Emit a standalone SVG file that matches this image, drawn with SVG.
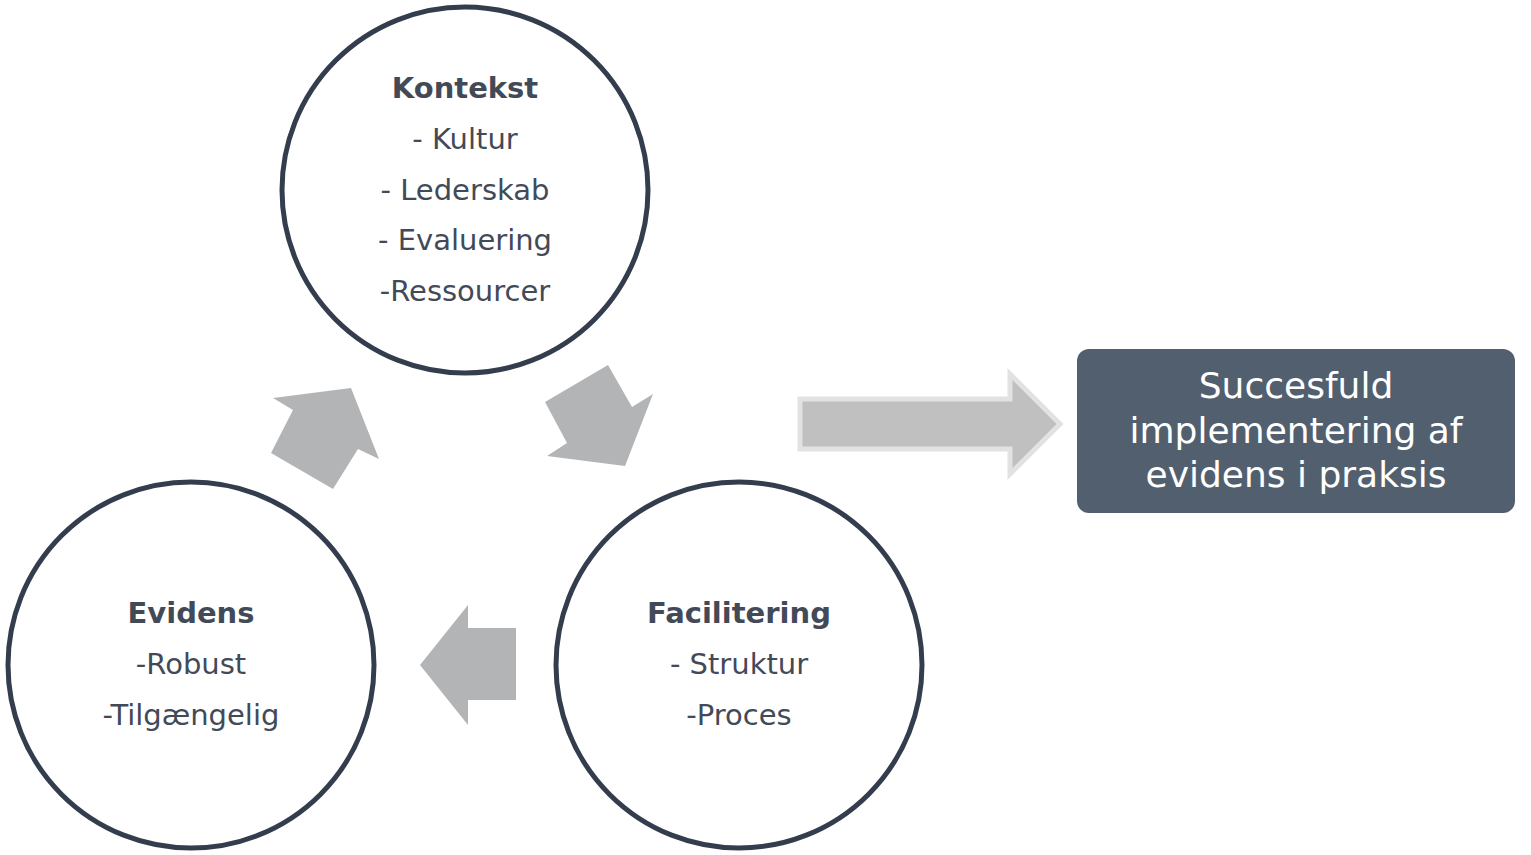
<svg xmlns="http://www.w3.org/2000/svg" width="1531" height="855" viewBox="0 0 1531 855">
<style>
.c{fill:#fff;stroke:#333d4d;stroke-width:5}
.a{fill:#b3b4b6}
.t{font-family:"DejaVu Sans",sans-serif;font-size:29px;fill:#434a57;text-anchor:middle}
.b{font-weight:bold}
.w{font-family:"DejaVu Sans",sans-serif;font-size:36px;fill:#fff;text-anchor:middle}
</style>
<rect width="1531" height="855" fill="#fff"/>
<g id="connectors">
<polygon class="a" points="273,398 351,388 379,459 358,449 333,489 271,453 293,410"/>
<polygon class="a" points="545,402 608,365 632,407 653,394 625,466 547,456 567,443"/>
<polygon class="a" points="420,665 468,605 468,628 516,628 516,700 468,700 468,725"/>
<polygon points="800,399 1010,399 1010,374 1060,424 1010,474 1010,449 800,449" fill="#c0c0c0" stroke="#e2e2e2" stroke-width="5"/>
</g>
<g id="kontekst">
<circle class="c" cx="465" cy="190" r="183"/>
<text class="t b" x="465" y="98">Kontekst</text>
<text class="t" x="465" y="149">- Kultur</text>
<text class="t" x="465" y="200">- Lederskab</text>
<text class="t" x="465" y="250">- Evaluering</text>
<text class="t" x="465" y="301">-Ressourcer</text>
</g>
<g id="evidens">
<circle class="c" cx="191" cy="665" r="183"/>
<text class="t b" x="191" y="623">Evidens</text>
<text class="t" x="191" y="674">-Robust</text>
<text class="t" x="191" y="725">-Tilgængelig</text>
</g>
<g id="facilitering">
<circle class="c" cx="739" cy="665" r="183"/>
<text class="t b" x="739" y="623">Facilitering</text>
<text class="t" x="739" y="674">- Struktur</text>
<text class="t" x="739" y="725">-Proces</text>
</g>
<g id="result">
<rect x="1077" y="349" width="438" height="164" rx="12" fill="#525f6e"/>
<text class="w" x="1296" y="398">Succesfuld</text>
<text class="w" x="1296" y="443">implementering af</text>
<text class="w" x="1296" y="487">evidens i praksis</text>
</g>
</svg>
